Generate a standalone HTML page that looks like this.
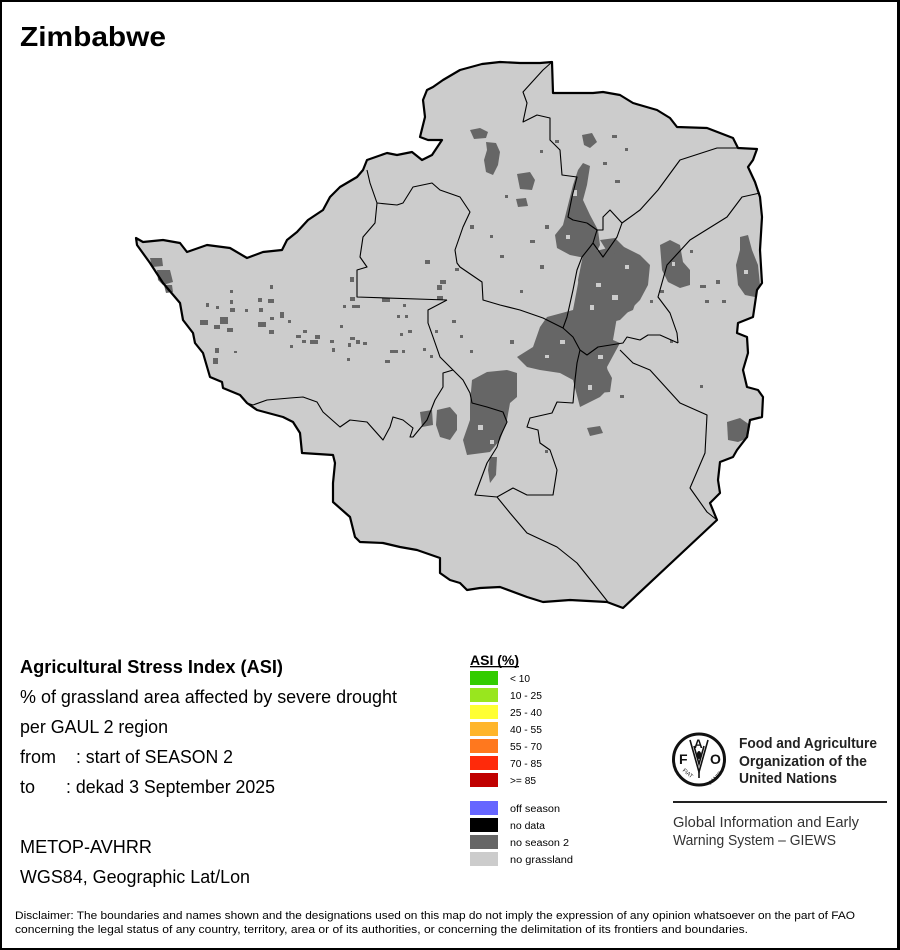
<!DOCTYPE html>
<html><head><meta charset="utf-8"><style>
html,body{margin:0;padding:0;background:#fff;}
svg{display:block;}
text{font-family:"Liberation Sans",Arial,sans-serif;}
</style></head><body>
<svg width="900" height="950" viewBox="0 0 900 950" xmlns="http://www.w3.org/2000/svg" xmlns:xlink="http://www.w3.org/1999/xlink">
<defs>
<path id="outline" d="M136,238 L143,242 L163,240 L180,243 L187,252 L207,245 L230,248 L247,258 L263,252 L282,250 L287,240 L297,232 L308,220 L323,210 L330,197 L340,187 L357,177 L363,170 L367,160 L387,153 L397,155 L412,152 L422,160 L432,155 L442,140 L428,140 L420,137 L425,117 L423,100 L427,90 L433,87 L443,80 L460,70 L482,64 L500,62 L520,63 L540,63 L552,62 L553,93 L593,93 L603,92 L620,95 L633,103 L657,110 L670,118 L677,127 L707,128 L733,138 L738,148 L757,149 L753,160 L748,167 L755,182 L760,197 L762,217 L760,250 L762,283 L757,290 L753,317 L738,323 L737,333 L747,337 L748,353 L743,370 L747,387 L758,390 L763,397 L762,417 L750,420 L747,437 L737,450 L733,457 L720,462 L718,480 L720,493 L710,503 L717,520 L623,608 L607,602 L570,600 L543,602 L527,597 L500,587 L480,588 L467,590 L460,583 L450,580 L440,573 L440,558 L417,550 L400,547 L383,543 L360,542 L355,537 L350,517 L333,502 L333,483 L335,463 L333,455 L302,453 L300,433 L293,422 L283,417 L257,410 L247,403 L240,395 L223,388 L222,382 L210,377 L203,353 L195,343 L193,333 L183,320 L180,303 L163,283 L150,263 L137,245 Z"/>
</defs>
<rect x="0" y="0" width="900" height="950" fill="#fff"/>
<rect x="0" y="0" width="900" height="2" fill="#000"/>
<rect x="0" y="0" width="2" height="950" fill="#000"/>
<rect x="897" y="0" width="3" height="950" fill="#000"/>
<rect x="0" y="948" width="900" height="2" fill="#000"/>

<text x="20" y="46" font-size="28" font-weight="bold" textLength="146" lengthAdjust="spacingAndGlyphs">Zimbabwe</text>

<use href="#outline" xlink:href="#outline" fill="#cccccc" stroke="none"/>

<g fill="#666666">
<path d="M517,357 L533,347 L540,327 L547,317 L573,310 L580,273 L600,270 L617,280 L640,290 L633,310 L617,317 L613,340 L620,343 L607,367 L610,387 L600,397 L580,407 L573,380 L560,373 L540,370 L527,367 Z"/>
<path d="M472,380 L487,372 L507,370 L517,373 L517,397 L510,403 L507,420 L500,440 L490,452 L467,455 L463,440 L470,420 L470,403 Z"/>
<path d="M437,410 L450,407 L457,415 L457,430 L450,440 L440,437 L436,425 Z"/>
<path d="M420,412 L432,410 L433,425 L422,427 Z"/>
<path d="M490,457 L497,457 L496,475 L490,483 L488,470 Z"/>
<path d="M583,163 L590,166 L587,185 L583,200 L590,215 L598,230 L600,245 L595,255 L585,258 L570,255 L557,248 L555,235 L563,225 L568,205 L573,185 L578,170 Z"/>
<path d="M583,255 L600,250 L620,245 L640,255 L650,265 L648,285 L640,300 L630,310 L620,320 L600,325 L585,330 L578,320 L580,300 L578,280 Z"/>
<path d="M600,240 L615,238 L625,248 L610,256 Z"/>
<path d="M660,245 L670,240 L680,245 L683,262 L690,270 L690,285 L680,288 L668,282 L662,270 Z"/>
<path d="M740,237 L748,235 L752,250 L758,265 L760,285 L755,297 L745,295 L738,285 L736,265 L740,250 Z"/>
<path d="M470,130 L480,128 L488,132 L486,138 L474,139 Z"/>
<path d="M486,142 L496,143 L500,152 L498,165 L493,175 L486,172 L484,160 L487,150 Z"/>
<path d="M517,174 L530,172 L535,180 L532,190 L520,189 Z"/>
<path d="M516,199 L526,198 L528,206 L518,207 Z"/>
<path d="M582,135 L592,133 L597,142 L590,148 L584,145 Z"/>
<path d="M593,362 L605,365 L612,378 L610,392 L598,393 L593,380 Z"/>
<path d="M587,428 L600,426 L603,433 L590,436 Z"/>
<path d="M727,422 L740,418 L750,425 L748,438 L738,442 L728,440 Z"/>
<path d="M150,258 L162,258 L163,266 L152,267 Z"/>
<path d="M157,270 L170,270 L173,282 L163,285 L158,280 Z"/>
<path d="M164,285 L172,285 L173,292 L166,293 Z"/>
<rect x="200" y="320" width="8" height="5"/><rect x="214" y="325" width="6" height="4"/>
<rect x="220" y="317" width="8" height="7"/><rect x="227" y="328" width="6" height="4"/>
<rect x="230" y="300" width="3" height="4"/><rect x="206" y="303" width="3" height="4"/>
<rect x="216" y="306" width="3" height="3"/><rect x="230" y="308" width="5" height="4"/>
<rect x="258" y="298" width="4" height="4"/><rect x="259" y="308" width="4" height="4"/>
<rect x="245" y="309" width="3" height="3"/><rect x="268" y="299" width="6" height="4"/>
<rect x="258" y="322" width="8" height="5"/><rect x="270" y="317" width="4" height="3"/>
<rect x="269" y="330" width="5" height="4"/><rect x="280" y="312" width="4" height="6"/>
<rect x="270" y="285" width="3" height="4"/><rect x="230" y="290" width="3" height="3"/>
<rect x="215" y="348" width="4" height="5"/><rect x="213" y="358" width="5" height="6"/>
<rect x="234" y="351" width="3" height="2"/><rect x="288" y="320" width="3" height="3"/>
<rect x="296" y="335" width="5" height="3"/><rect x="290" y="345" width="3" height="3"/>
<rect x="302" y="340" width="4" height="3"/><rect x="303" y="330" width="4" height="3"/>
<rect x="310" y="340" width="8" height="4"/><rect x="315" y="335" width="5" height="4"/>
<rect x="330" y="340" width="4" height="3"/><rect x="332" y="348" width="3" height="4"/>
<rect x="348" y="343" width="3" height="4"/><rect x="350" y="337" width="5" height="3"/>
<rect x="347" y="358" width="3" height="3"/><rect x="356" y="340" width="4" height="4"/>
<rect x="363" y="342" width="4" height="3"/><rect x="390" y="350" width="8" height="3"/>
<rect x="385" y="360" width="5" height="3"/><rect x="402" y="350" width="3" height="3"/>
<rect x="343" y="305" width="3" height="3"/><rect x="340" y="325" width="3" height="3"/>
<rect x="352" y="305" width="8" height="3"/><rect x="397" y="315" width="3" height="3"/>
<rect x="400" y="333" width="3" height="3"/><rect x="403" y="304" width="3" height="3"/>
<rect x="405" y="315" width="3" height="3"/><rect x="423" y="348" width="3" height="3"/>
<rect x="430" y="355" width="3" height="3"/><rect x="350" y="277" width="4" height="5"/>
<rect x="408" y="330" width="4" height="3"/><rect x="435" y="330" width="3" height="3"/>
<rect x="437" y="285" width="5" height="5"/><rect x="437" y="296" width="6" height="4"/>
<rect x="440" y="280" width="6" height="4"/><rect x="382" y="298" width="8" height="4"/>
<rect x="350" y="297" width="5" height="4"/><rect x="425" y="260" width="5" height="4"/>
<rect x="455" y="268" width="4" height="3"/><rect x="470" y="225" width="4" height="4"/>
<rect x="500" y="255" width="4" height="3"/><rect x="490" y="235" width="3" height="3"/>
<rect x="530" y="240" width="5" height="3"/><rect x="545" y="225" width="4" height="4"/>
<rect x="505" y="195" width="3" height="3"/><rect x="540" y="150" width="3" height="3"/>
<rect x="555" y="140" width="4" height="3"/><rect x="612" y="135" width="5" height="3"/>
<rect x="615" y="180" width="5" height="3"/><rect x="603" y="162" width="4" height="3"/>
<rect x="625" y="148" width="3" height="3"/><rect x="705" y="300" width="4" height="3"/>
<rect x="700" y="285" width="6" height="3"/><rect x="716" y="280" width="4" height="4"/>
<rect x="722" y="300" width="4" height="3"/><rect x="670" y="340" width="3" height="3"/>
<rect x="700" y="385" width="3" height="3"/><rect x="545" y="450" width="3" height="3"/>
<rect x="460" y="335" width="3" height="3"/><rect x="452" y="320" width="4" height="3"/>
<rect x="470" y="350" width="3" height="3"/>
<rect x="660" y="290" width="4" height="3"/><rect x="650" y="300" width="3" height="3"/>
<rect x="690" y="250" width="3" height="3"/><rect x="540" y="265" width="4" height="4"/>
<rect x="520" y="290" width="3" height="3"/><rect x="510" y="340" width="4" height="4"/>
<rect x="620" y="395" width="4" height="3"/>
</g>
<!-- holes in clusters -->
<g fill="#cccccc">
<rect x="596" y="283" width="5" height="4"/><rect x="612" y="295" width="6" height="5"/>
<rect x="625" y="265" width="4" height="4"/><rect x="590" y="305" width="4" height="5"/>
<rect x="560" y="340" width="5" height="4"/><rect x="545" y="355" width="4" height="3"/>
<rect x="588" y="385" width="4" height="5"/><rect x="598" y="355" width="5" height="4"/>
<rect x="573" y="190" width="4" height="6"/><rect x="566" y="235" width="4" height="4"/>
<rect x="478" y="425" width="5" height="5"/><rect x="490" y="440" width="4" height="4"/>
<rect x="744" y="270" width="4" height="4"/><rect x="672" y="262" width="3" height="4"/>
</g>

<use href="#outline" xlink:href="#outline" fill="none" stroke="#000" stroke-width="2.2" stroke-linejoin="round"/>

<g fill="none" stroke="#000" stroke-width="1.1" stroke-linejoin="round">
<polyline points="367,170 370,183 377,203 375,223 363,237 360,257 367,267 357,270 357,297 447,300"/>
<polyline points="377,203 397,205 403,203 413,187 432,183 440,190 460,197 470,212 463,227 455,250 457,263 460,267 482,282 483,300 500,305 520,310 543,318 553,323 563,328 573,337 580,350 587,355 598,347 623,343 627,337 640,340 648,335 660,335 678,343"/>
<polyline points="760,193 742,197 727,217 690,240 667,265 658,297 670,313 677,333 678,343"/>
<polyline points="738,148 717,148 680,160 658,190 640,210 622,223 610,210 603,217 603,230 597,230 587,223"/>
<polyline points="597,230 593,243 603,257 617,237 622,223"/>
<polyline points="552,62 543,70 523,92 527,103 523,122 537,115 550,118 550,140 560,150 562,175 577,177 572,197 568,217 573,220 587,223"/>
<polyline points="593,243 590,247 582,257 577,270 573,290 567,317 563,328"/>
<polyline points="447,300 428,310 428,323 433,337 440,357 453,370 463,380 470,393 472,403 487,407 503,412 507,422 500,437 497,447 487,463 475,495 497,497 513,488 527,495 553,495 557,470 550,450 540,443 538,430 527,427 530,418 552,413 557,402 573,403 575,380 577,363 580,350"/>
<polyline points="453,370 443,373 443,387 435,400 427,420 413,437 410,437 413,428 403,420 393,417 390,427 383,440 367,422 350,420 340,427 323,412 317,402 303,397 290,398 267,400 253,405 247,403"/>
<polyline points="497,497 510,513 527,533 557,547 577,563 593,583 608,602"/>
<polyline points="620,350 633,363 650,370 680,403 707,415 705,453 690,488 707,512 717,520"/>
</g>

<text x="20" y="673" font-size="18" font-weight="bold" textLength="263" lengthAdjust="spacingAndGlyphs">Agricultural Stress Index (ASI)</text>
<text x="20" y="703" font-size="18" textLength="377" lengthAdjust="spacingAndGlyphs">% of grassland area affected by severe drought</text>
<text x="20" y="733" font-size="18" textLength="148" lengthAdjust="spacingAndGlyphs">per GAUL 2 region</text>
<text x="20" y="763" font-size="18">from</text>
<text x="76" y="763" font-size="18" textLength="157" lengthAdjust="spacingAndGlyphs">: start of SEASON 2</text>
<text x="20" y="793" font-size="18">to</text>
<text x="66" y="793" font-size="18" textLength="209" lengthAdjust="spacingAndGlyphs">: dekad 3 September 2025</text>
<text x="20" y="853" font-size="18" textLength="132" lengthAdjust="spacingAndGlyphs">METOP-AVHRR</text>
<text x="20" y="883" font-size="18" textLength="230" lengthAdjust="spacingAndGlyphs">WGS84, Geographic Lat/Lon</text>

<text x="15" y="919" font-size="11" textLength="840" lengthAdjust="spacingAndGlyphs">Disclaimer: The boundaries and names shown and the designations used on this map do not imply the expression of any opinion whatsoever on the part of FAO</text>
<text x="15" y="933" font-size="11" textLength="733" lengthAdjust="spacingAndGlyphs">concerning the legal status of any country, territory, area or of its authorities, or concerning the delimitation of its frontiers and boundaries.</text>

<text x="470" y="665" font-size="13.5" font-weight="bold" textLength="49" lengthAdjust="spacingAndGlyphs">ASI (%)</text>
<rect x="470" y="666" width="49" height="1.3" fill="#000"/>
<rect x="470" y="671" width="28" height="14" fill="#33cc00"/>
<rect x="470" y="688" width="28" height="14" fill="#99e61e"/>
<rect x="470" y="705" width="28" height="14" fill="#ffff33"/>
<rect x="470" y="722" width="28" height="14" fill="#ffb52a"/>
<rect x="470" y="739" width="28" height="14" fill="#ff781e"/>
<rect x="470" y="756" width="28" height="14" fill="#ff2a0a"/>
<rect x="470" y="773" width="28" height="14" fill="#c00000"/>
<rect x="470" y="801" width="28" height="14" fill="#6666ff"/>
<rect x="470" y="818" width="28" height="14" fill="#000000"/>
<rect x="470" y="835" width="28" height="14" fill="#666666"/>
<rect x="470" y="852" width="28" height="14" fill="#cccccc"/>
<g font-size="10">
<text x="510" y="682" textLength="20" lengthAdjust="spacingAndGlyphs">&lt; 10</text>
<text x="510" y="699" textLength="32" lengthAdjust="spacingAndGlyphs">10 - 25</text>
<text x="510" y="716" textLength="32" lengthAdjust="spacingAndGlyphs">25 - 40</text>
<text x="510" y="733" textLength="32" lengthAdjust="spacingAndGlyphs">40 - 55</text>
<text x="510" y="750" textLength="32" lengthAdjust="spacingAndGlyphs">55 - 70</text>
<text x="510" y="767" textLength="32" lengthAdjust="spacingAndGlyphs">70 - 85</text>
<text x="510" y="784" textLength="26" lengthAdjust="spacingAndGlyphs">&gt;= 85</text>
<text x="510" y="812" textLength="50" lengthAdjust="spacingAndGlyphs">off season</text>
<text x="510" y="829" textLength="35" lengthAdjust="spacingAndGlyphs">no data</text>
<text x="510" y="846" textLength="59" lengthAdjust="spacingAndGlyphs">no season 2</text>
<text x="510" y="863" textLength="63" lengthAdjust="spacingAndGlyphs">no grassland</text>
</g>

<circle cx="699" cy="759.5" r="25.5" fill="none" stroke="#111" stroke-width="3"/>
<text x="679" y="764" font-size="14" font-weight="bold" fill="#111">F</text>
<text x="694" y="748" font-size="12" font-weight="bold" fill="#111">A</text>
<text x="710" y="764" font-size="14" font-weight="bold" fill="#111">O</text>
<g fill="none" stroke="#111" stroke-width="1.6">
<path d="M690,740 L699,772 L708,740"/>
<path d="M694,746 L699,764 L704,746"/>
<line x1="699" y1="772" x2="699" y2="778"/>
</g>
<ellipse cx="699" cy="755" rx="2.2" ry="4" fill="#111"/>
<text x="680" y="773" font-size="5.5" fill="#111" transform="rotate(40 684 775)">FIAT</text>
<text x="706" y="782" font-size="5.5" fill="#111" transform="rotate(-45 712 778)">PANIS</text>

<text x="739" y="748" font-size="15" font-weight="bold" fill="#222" textLength="138" lengthAdjust="spacingAndGlyphs">Food and Agriculture</text>
<text x="739" y="766" font-size="15" font-weight="bold" fill="#222" textLength="128" lengthAdjust="spacingAndGlyphs">Organization of the</text>
<text x="739" y="783" font-size="15" font-weight="bold" fill="#222" textLength="98" lengthAdjust="spacingAndGlyphs">United Nations</text>
<rect x="673" y="801" width="214" height="2" fill="#222"/>
<text x="673" y="827" font-size="14.7" fill="#333" textLength="186" lengthAdjust="spacingAndGlyphs">Global Information and Early</text>
<text x="673" y="845" font-size="14.7" fill="#333" textLength="163" lengthAdjust="spacingAndGlyphs">Warning System – GIEWS</text>
</svg>
</body></html>
